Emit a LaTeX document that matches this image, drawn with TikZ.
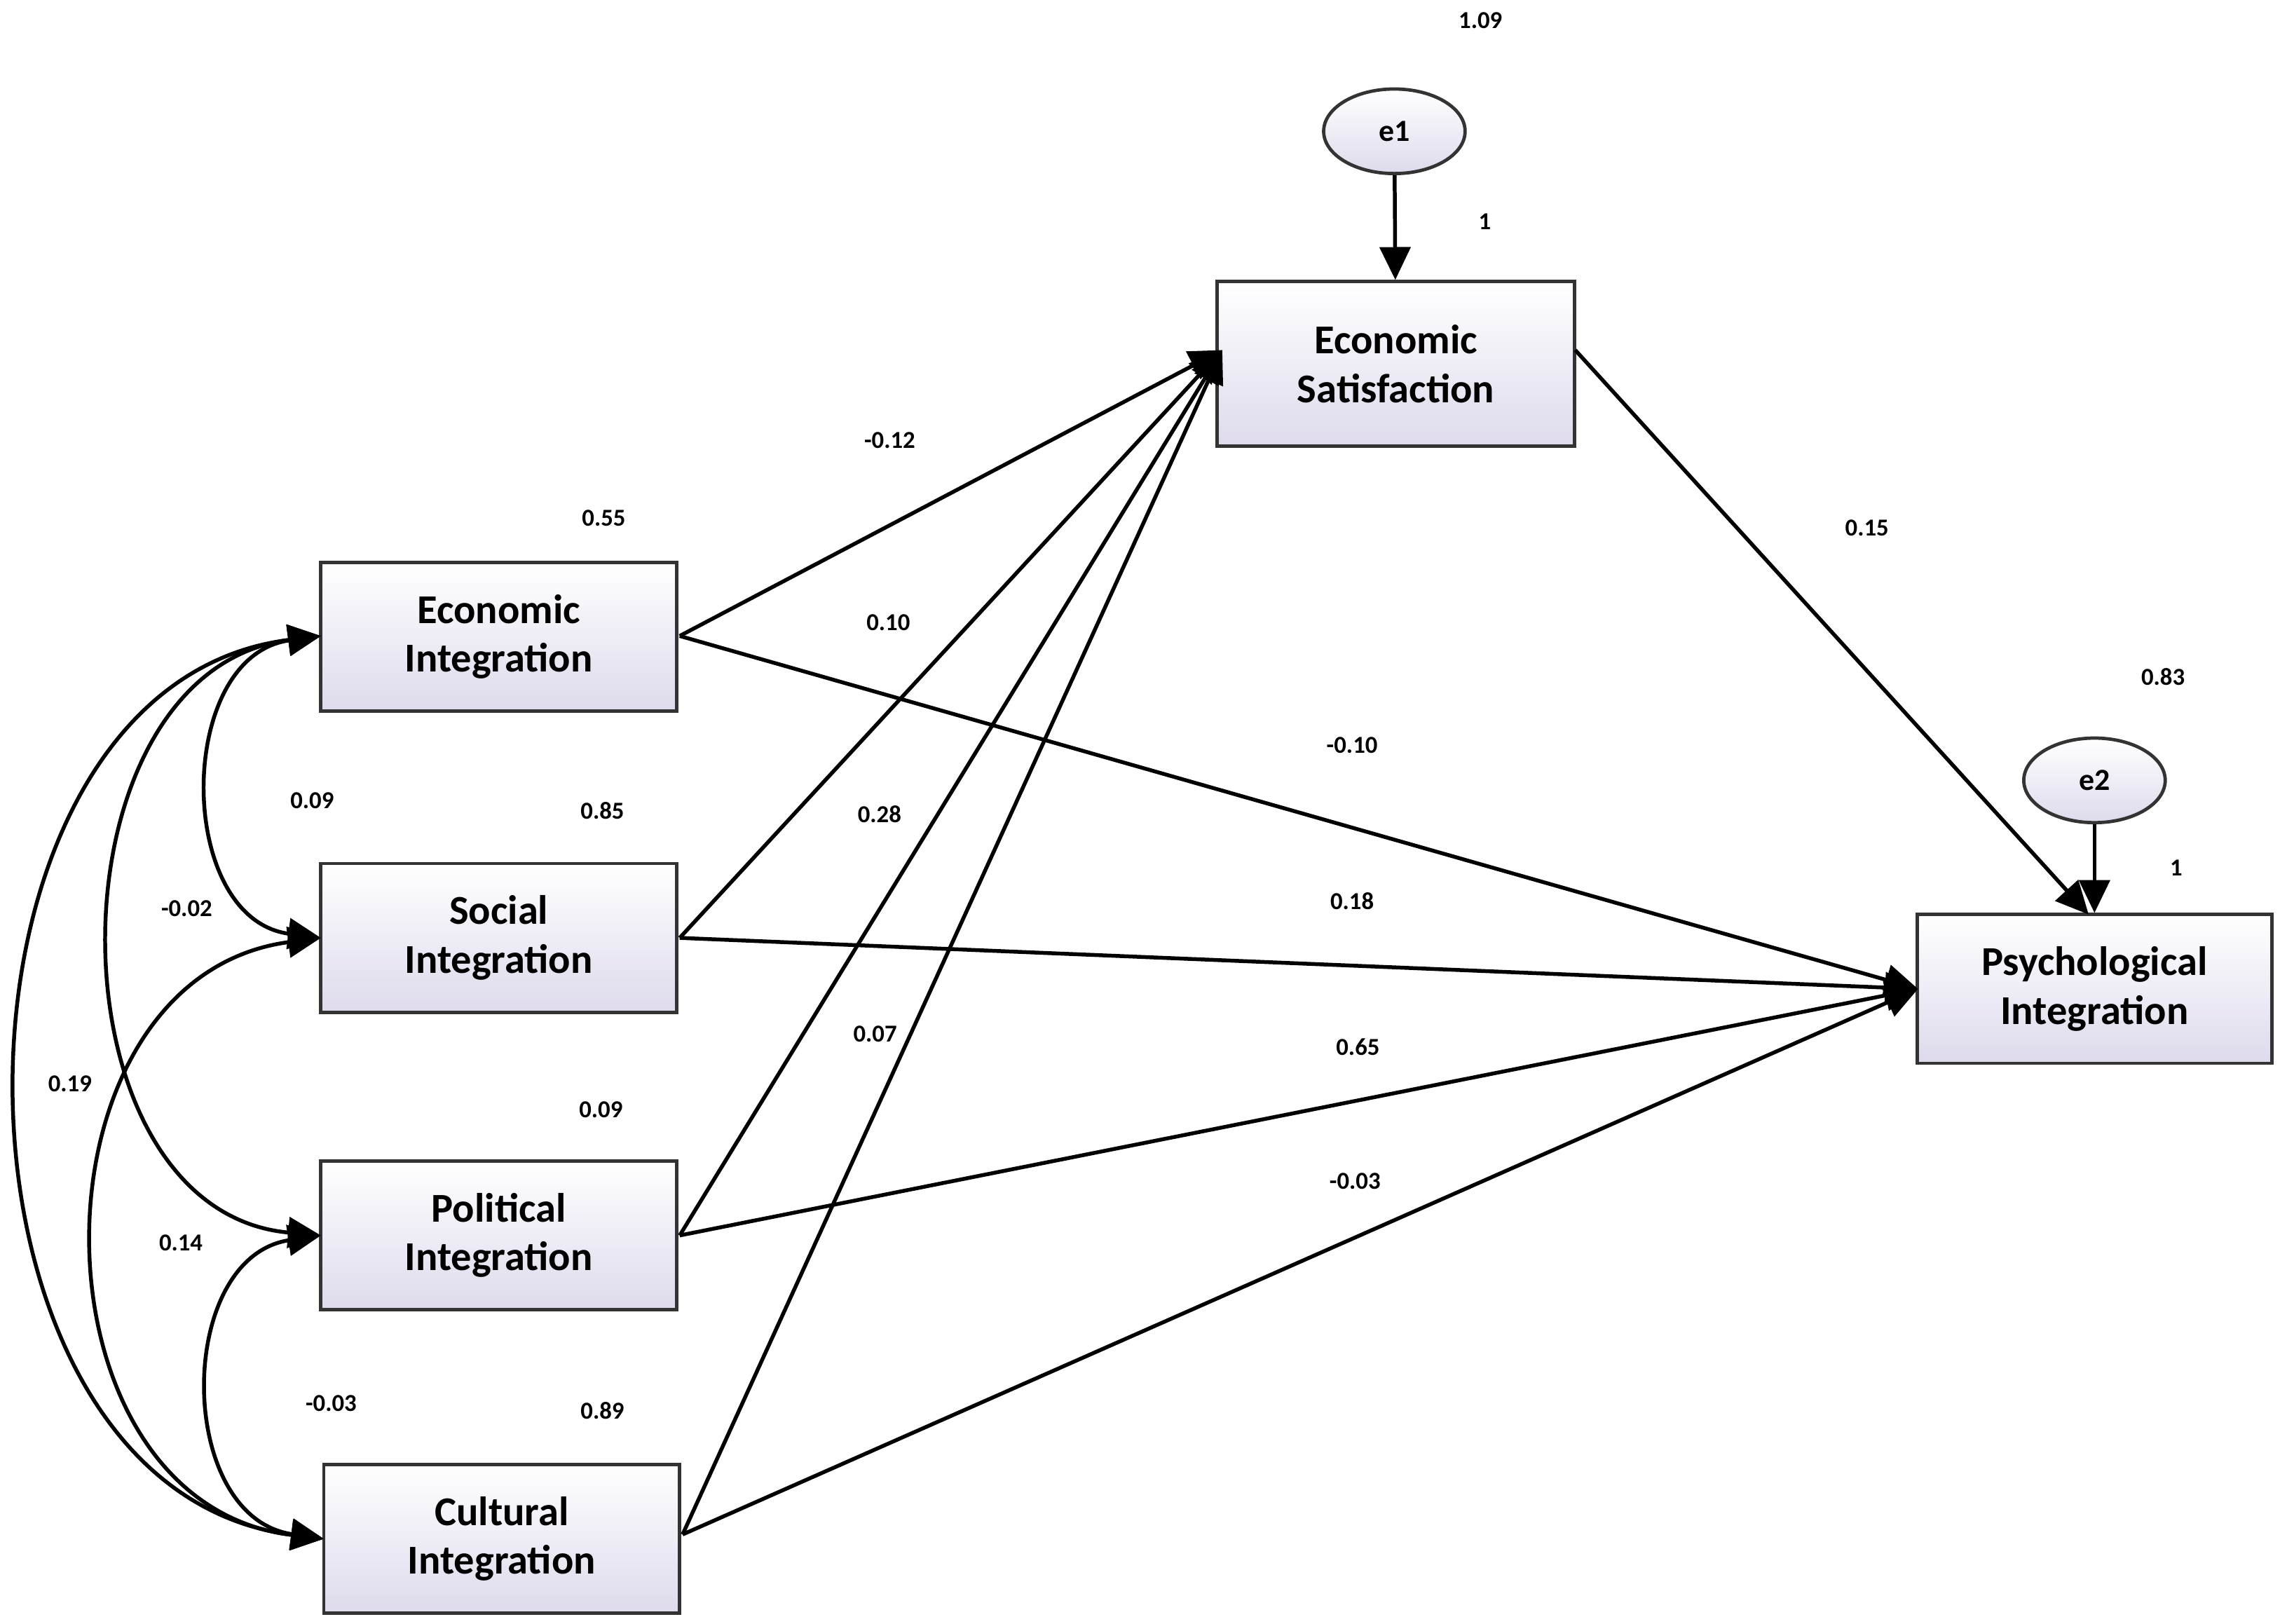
\documentclass[tikz,border=0pt]{standalone}
\usepackage{fontspec}
\setmainfont{Carlito}
\usetikzlibrary{arrows.meta,shapes.geometric}
\definecolor{boxbot}{RGB}{222,218,236}
\begin{document}
\begin{tikzpicture}[x=0.02cm,y=-0.02cm,
  box/.style={draw=black!80,line width=1.3pt,top color=white,bottom color=boxbot,minimum width=4.88cm,minimum height=2.04cm,align=center,font=\fontsize{16}{19}\selectfont\bfseries,inner sep=0pt},
  err/.style={ellipse,draw=black!80,line width=1.3pt,top color=white,bottom color=boxbot,minimum width=1.94cm,minimum height=1.16cm,font=\fontsize{12}{14}\selectfont\bfseries},
  arr/.style={line width=1.5pt,-{Triangle[length=0.45cm,width=0.42cm]}},
  cov/.style={line width=1.5pt,{Triangle[length=0.45cm,width=0.42cm]}-{Triangle[length=0.45cm,width=0.42cm]}},
  lab/.style={font=\fontsize{9.5}{11}\selectfont\bfseries}]
\useasboundingbox (0,0) rectangle (1568,1113);
\node[box] (EI) at (342,436.5) {Economic\\Integration};
\node[box] (SI) at (342,643) {Social\\Integration};
\node[box] (PI) at (342,847) {Political\\Integration};
\node[box] (CI) at (344,1055) {Cultural\\Integration};
\node[box,minimum width=4.9cm,minimum height=2.26cm] (ES) at (957,249.5) {Economic\\Satisfaction};
\node[box,minimum width=4.86cm] (PSY) at (1436,678) {Psychological\\Integration};
\node[err] (e1) at (956,90) {e1};
\node[err] (e2) at (1436,535) {e2};
\coordinate (esin) at (838,240);
\coordinate (psin) at (1315,678);
\coordinate (eiL) at (220,436);
\coordinate (siL) at (220,643);
\coordinate (piL) at (220,847);
\coordinate (ciL) at (222,1055);
\coordinate (eiR) at (466,436);
\coordinate (siR) at (466,643);
\coordinate (piR) at (466,847);
\coordinate (ciR) at (468,1052);
\foreach \s in {eiR,siR,piR,ciR}{\draw[arr] (\s) -- (esin); \draw[arr] (\s) -- (psin);}
\draw[arr] (1080,240) -- (1432,627);
\draw[arr] (e1) -- (ES);
\draw[arr] (e2) -- (PSY);
\draw[cov] (eiL) .. controls (120,450) and (120,630) .. (siL);
\draw[cov] (eiL) .. controls (30,460) and (30,830) .. (piL);
\draw[cov] (eiL) .. controls (-55,470) and (-55,1020) .. (ciL);
\draw[cov] (siL) .. controls (15,670) and (15,1030) .. (ciL);
\draw[cov] (piL) .. controls (120,862) and (120,1040) .. (ciL);
\foreach \p/\t in {(1015,14)/1.09,(1018,152)/1,(610,302)/-0.12,(414,355)/0.55,(609,427)/0.10,(1280,362)/0.15,(1483,464)/0.83,(927,511)/-0.10,(214,549)/0.09,(413,556)/0.85,(603,558)/0.28,(1492,595)/1,(927,618)/0.18,(128,623)/-0.02,(600,709)/0.07,(931,718)/0.65,(48,743)/0.19,(412,761)/0.09,(929,810)/-0.03,(124,852)/0.14,(227,962)/-0.03,(413,967)/0.89}
  \node[lab] at \p {\t};
\end{tikzpicture}
\end{document}
